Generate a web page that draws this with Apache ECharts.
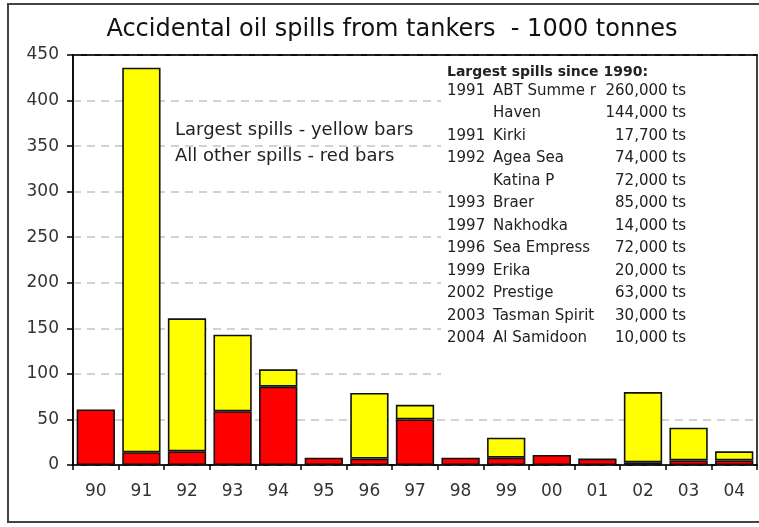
<!DOCTYPE html>
<html>
<head>
<meta charset="utf-8">
<script src="https://cdn.jsdelivr.net/npm/echarts@6/dist/echarts.min.js"></script>
<style>
  html, body { margin: 0; padding: 0; background: #fff; }
  #chart { width: 759px; height: 527px; }
</style>
</head>
<body>
<div id="chart"></div>
<script>
// years on the x axis (19xx / 20xx)
const years = ['90', '91', '92', '93', '94', '95', '96', '97', '98', '99', '00', '01', '02', '03', '04'];
// all other spills (red), 1000 tonnes
const otherSpills = [61, 14, 15, 59, 86, 8, 7, 50, 8, 8, 11, 7, 3, 5, 5];
// largest spills (yellow), 1000 tonnes
const largestSpills = [null, 422, 146, 84, 19, null, 72, 16, null, 22, null, null, 77, 36, 10];

// text box: largest spills since 1990
const spillYears = ['1991', '', '1991', '1992', '', '1993', '1997', '1996', '1999', '2002', '2003', '2004'];
const spillNames = ['ABT Summe r', 'Haven', 'Kirki', 'Agea Sea', 'Katina P', 'Braer', 'Nakhodka', 'Sea Empress', 'Erika', 'Prestige', 'Tasman Spirit', 'Al Samidoon'];
const spillSizes = ['260,000 ts', '144,000 ts', '17,700 ts', '74,000 ts', '72,000 ts', '85,000 ts', '14,000 ts', '72,000 ts', '20,000 ts', '63,000 ts', '30,000 ts', '10,000 ts'];

const font = 'DejaVu Sans';
const txtColor = '#222';

const chart = echarts.init(document.getElementById('chart'));

// build the text box lines
const boxText = [{
    type: 'text',
    z: 10,
    style: { text: 'Largest spills since 1990:', x: 447, y: 72, fontFamily: font, fontSize: 14, fontWeight: 'bold', fill: txtColor, textVerticalAlign: 'middle' }
}];
spillNames.forEach(function (name, i) {
    const y = 91 + i * 22.5;
    boxText.push({ type: 'text', z: 10, style: { text: spillYears[i], x: 447, y: y, fontFamily: font, fontSize: 15, fill: txtColor, textVerticalAlign: 'middle' } });
    boxText.push({ type: 'text', z: 10, style: { text: name, x: 493, y: y, fontFamily: font, fontSize: 15, fill: txtColor, textVerticalAlign: 'middle' } });
    boxText.push({ type: 'text', z: 10, style: { text: spillSizes[i], x: 686, y: y, fontFamily: font, fontSize: 15, fill: txtColor, textAlign: 'right', textVerticalAlign: 'middle' } });
});

const option = {
    backgroundColor: '#fff',
    animation: false,
    title: {
        text: 'Accidental oil spills from tankers  - 1000 tonnes',
        left: 387,
        top: 13,
        textAlign: 'center',
        textStyle: { fontFamily: font, fontSize: 24, fontWeight: 'normal', color: '#111' }
    },
    grid: {
        left: 73,
        right: 2,
        top: 55,
        bottom: 62,
        show: true,
        borderColor: '#000',
        borderWidth: 1.5,
        backgroundColor: '#fff'
    },
    xAxis: [
        {
            type: 'category',
            data: years,
            axisLine: { lineStyle: { color: '#000', width: 1.5 } },
            axisTick: { show: true, inside: false, length: 5, lineStyle: { color: '#000', width: 1.5 } },
            axisLabel: { color: '#333', fontFamily: font, fontSize: 17, margin: 18 }
        },
        {
            // only draws the solid top edge of the plot area
            type: 'category',
            data: years,
            position: 'top',
            axisLine: { show: true, lineStyle: { color: '#000', width: 1.5 } },
            axisTick: { show: false },
            axisLabel: { show: false }
        }
    ],
    yAxis: {
        type: 'value',
        min: 0,
        max: 450,
        interval: 50,
        axisLine: { show: true, lineStyle: { color: '#000', width: 1.5 } },
        axisTick: { show: true, inside: false, length: 6, lineStyle: { color: '#000', width: 1.5 } },
        axisLabel: { color: '#333', fontFamily: font, fontSize: 17, margin: 14 },
        splitLine: { show: true, lineStyle: { color: '#c4c4c4', width: 1.5, type: [8, 6] } }
    },
    series: [
        {
            name: 'All other spills',
            type: 'bar',
            stack: 'spills',
            data: otherSpills,
            barCategoryGap: '16%',
            itemStyle: { color: '#ff0000', borderColor: '#111', borderWidth: 1.6 }
        },
        {
            name: 'Largest spills',
            type: 'bar',
            stack: 'spills',
            data: largestSpills,
            barCategoryGap: '16%',
            itemStyle: { color: '#ffff00', borderColor: '#111', borderWidth: 1.6 }
        }
    ],
    graphic: [
        // outer frame
        { type: 'rect', z: 0, shape: { x: 8, y: 4, width: 800, height: 518 }, style: { fill: 'none', stroke: '#444', lineWidth: 2 } },
        // white text box covering the gridlines on the right
        { type: 'rect', z: 1, shape: { x: 441, y: 57, width: 315, height: 328 }, style: { fill: '#fff' } },
        // left note about bar colours
        { type: 'text', z: 10, style: { text: 'Largest spills - yellow bars', x: 175, y: 130, fontFamily: font, fontSize: 18, fill: txtColor, textVerticalAlign: 'middle' } },
        { type: 'text', z: 10, style: { text: 'All other spills - red bars', x: 175, y: 156, fontFamily: font, fontSize: 18, fill: txtColor, textVerticalAlign: 'middle' } }
    ].concat(boxText)
};

chart.setOption(option);
</script>
</body>
</html>
